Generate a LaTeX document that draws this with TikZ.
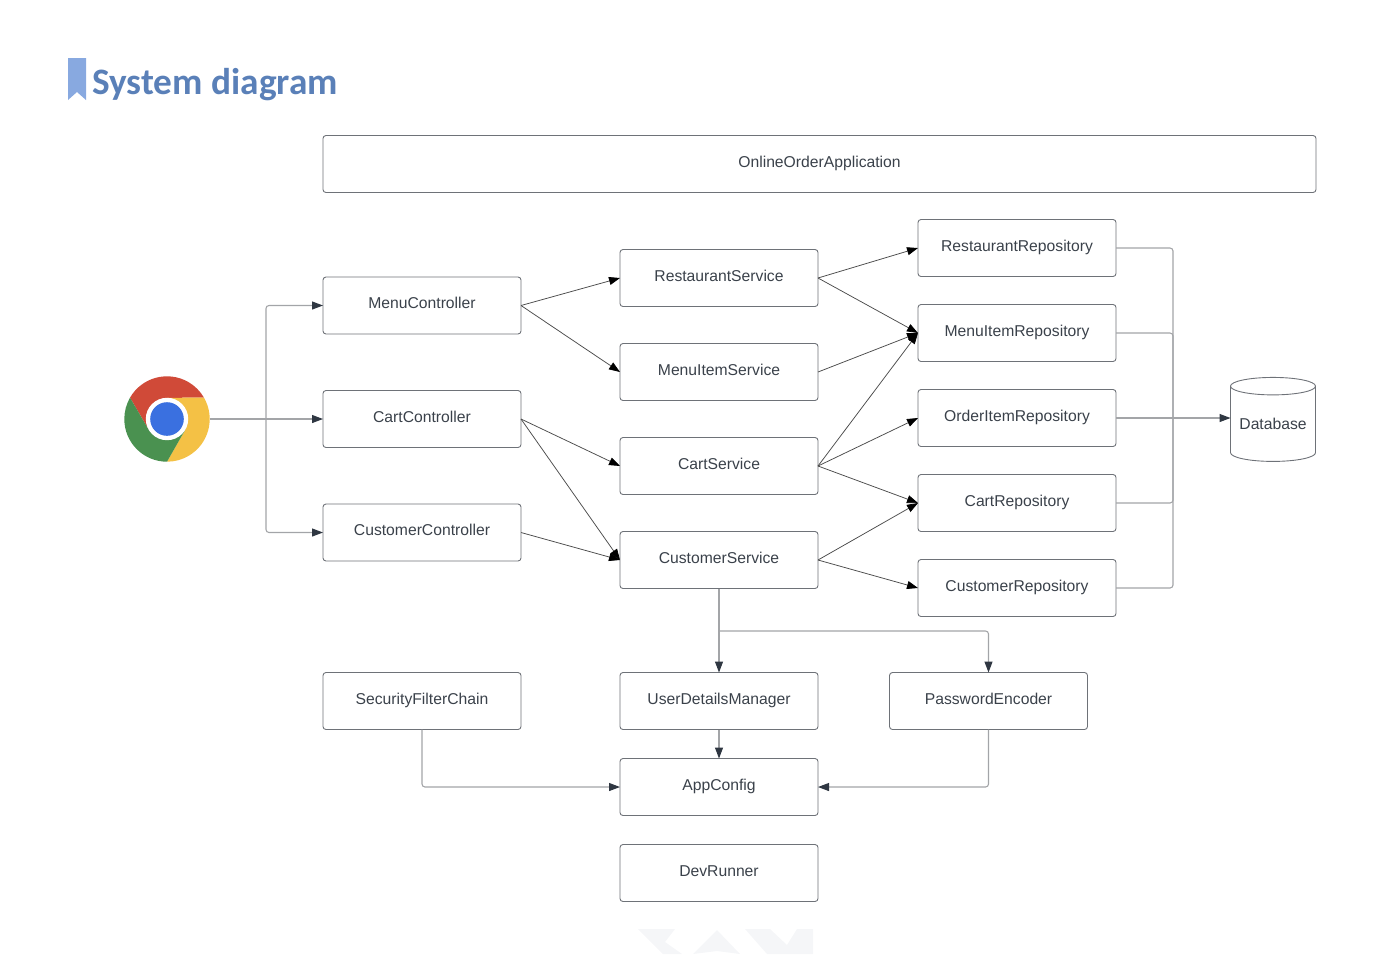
\documentclass[tikz,border=0pt]{standalone}
\usepackage{fontspec}
\setmainfont{Liberation Sans}
\newfontfamily\titlefont{Carlito}
\usetikzlibrary{positioning,arrows.meta,shapes.geometric}

\definecolor{linegray}{HTML}{A3A5A8}
\definecolor{boxgray}{HTML}{6E7278}
\definecolor{textgray}{HTML}{3A414A}
\definecolor{tipdark}{HTML}{2F3742}
\definecolor{titleblue}{HTML}{5A80B8}
\definecolor{ribbonblue}{HTML}{88A9E0}
\definecolor{markgray}{HTML}{F5F6F8}
\definecolor{chromered}{HTML}{D04A38}
\definecolor{chromeyellow}{HTML}{F4C145}
\definecolor{chromegreen}{HTML}{4A9150}
\definecolor{chromeblue}{HTML}{3A70E0}

\tikzset{
  block/.style={draw=boxgray, line width=0.45pt, rounded corners=1.5pt, outer sep=0pt,
    minimum width=99pt, minimum height=28.5pt, inner sep=0pt, text=textgray,
    font=\fontsize{7.85}{10}\selectfont, text height=6.5pt, text depth=3.5pt},
  link/.style={draw=black!70, line width=0.38pt, -{Triangle[length=5.5pt,width=4pt,color=black]}},
  wire/.style={draw=linegray, line width=0.55pt, rounded corners=1.5pt},
  wireto/.style={wire, -{Triangle[length=5.5pt,width=4pt,color=tipdark]}},
}

\begin{document}
\begin{tikzpicture}[x=0.5pt,y=-0.5pt]
  \useasboundingbox (0,0) rectangle (1384,954);

  % Heading
  \fill[ribbonblue] (68,58) -- (86,58) -- (86,100) -- (77,92) -- (68,100) -- cycle;
  \node[anchor=west, inner sep=0pt, text=titleblue, font=\titlefont\bfseries\fontsize{18.65}{22}\selectfont] (title) at (92,85) {System diagram};

  % Faint mark at the foot of the page
  \fill[markgray] (638,929) -- (675,929) -- (665,942) -- (682,954) -- (663,954) -- cycle;
  \fill[markgray] (717,930) -- (740,954) -- (717,951) -- (693,954) -- cycle;
  \fill[markgray] (745,929) -- (770,929) -- (787,945) -- (797,929) -- (813,929) -- (813,954) -- (767,954) -- cycle;

  % Define nodes
  \node[block, minimum width=496.5pt]  (app) at (819.5,164) {OnlineOrderApplication};

  \node[block]                         (menu_ctrl) at (422,305.5) {MenuController};
  \node[block, below=28.25pt of menu_ctrl] (cart_ctrl) {CartController};
  \node[block, below=28.25pt of cart_ctrl] (cust_ctrl) {CustomerController};

  \node[block]                         (rest_srv) at (719,278) {RestaurantService};
  \node[block, below=18.5pt of rest_srv]   (item_srv) {MenuItemService};
  \node[block, below=18.5pt of item_srv]   (cart_srv) {CartService};
  \node[block, below=18.5pt of cart_srv]   (cust_srv) {CustomerService};

  \node[block]                         (rest_repo) at (1017,248) {RestaurantRepository};
  \node[block, below=14pt of rest_repo]    (item_repo) {MenuItemRepository};
  \node[block, below=14pt of item_repo]    (order_repo) {OrderItemRepository};
  \node[block, below=14pt of order_repo]   (cart_repo) {CartRepository};
  \node[block, below=14pt of cart_repo]    (cust_repo) {CustomerRepository};

  \node[block]                         (filter) at (422,701) {SecurityFilterChain};
  \node[block]                         (users) at (719,701) {UserDetailsManager};
  \node[block]                         (encoder) at (988.5,701) {PasswordEncoder};
  \node[block]                         (config) at (719,787) {AppConfig};
  \node[block]                         (runner) at (719,873) {DevRunner};

  \node[draw=boxgray, line width=0.45pt, cylinder, shape border rotate=90, shape aspect=0.26,
    minimum width=42.5pt, minimum height=42pt, inner sep=0pt, outer sep=0pt, text=textgray,
    font=\fontsize{7.85}{10}\selectfont] (db) at (1273,424) {Database};

  \node[circle, minimum size=42.7pt, inner sep=0pt, outer sep=0pt] (chrome) at (167,419) {};
  \begin{scope}[shift={(chrome.center)}]
    \fill[chromered] (150:21.35pt) arc[start angle=150, end angle=30, radius=21.35pt] -- (90:10.6pt) -- (210:10.6pt) -- cycle;
    \fill[chromeyellow] (30:21.35pt) arc[start angle=30, end angle=-90, radius=21.35pt] -- (-30:10.6pt) -- (90:10.6pt) -- cycle;
    \fill[chromegreen] (-90:21.35pt) arc[start angle=270, end angle=150, radius=21.35pt] -- (210:10.6pt) -- (-30:10.6pt) -- cycle;
    \fill[white] (0,0) circle[radius=10.6pt];
    \fill[chromeblue] (0,0) circle[radius=8.4pt];
  \end{scope}

  \coordinate (split) at (266,419);
  \coordinate (bus) at (1173,418);
  \coordinate (fork) at (719,631);

  % Connect the nodes
  \draw[wire] (chrome.east) -- (split);
  \draw[wireto] (split) |- (menu_ctrl.west);
  \draw[wireto] (split) -- (cart_ctrl.west);
  \draw[wireto] (split) |- (cust_ctrl.west);

  \draw[link] (menu_ctrl.east) -- (rest_srv.west);
  \draw[link] (menu_ctrl.east) -- (item_srv.west);
  \draw[link] (cart_ctrl.east) -- (cart_srv.west);
  \draw[link] (cart_ctrl.east) -- (cust_srv.west);
  \draw[link] (cust_ctrl.east) -- (cust_srv.west);

  \draw[link] (rest_srv.east) -- (rest_repo.west);
  \draw[link] (rest_srv.east) -- (item_repo.west);
  \draw[link] (item_srv.east) -- (item_repo.west);
  \draw[link] (cart_srv.east) -- (item_repo.west);
  \draw[link] (cart_srv.east) -- (order_repo.west);
  \draw[link] (cart_srv.east) -- (cart_repo.west);
  \draw[link] (cust_srv.east) -- (cart_repo.west);
  \draw[link] (cust_srv.east) -- (cust_repo.west);

  \draw[wire] (rest_repo.east) -| (bus);
  \draw[wire] (item_repo.east) -| (bus);
  \draw[wire] (order_repo.east) -- (bus);
  \draw[wire] (cart_repo.east) -| (bus);
  \draw[wire] (cust_repo.east) -| (bus);
  \draw[wireto] (bus) -- (bus -| db.west);

  \draw[wireto] (cust_srv.south) -- (users.north);
  \draw[wireto] (fork) -| (encoder.north);
  \draw[wireto] (users.south) -- (config.north);
  \draw[wireto] (filter.south) |- (config.west);
  \draw[wireto] (encoder.south) |- (config.east);

\end{tikzpicture}
\end{document}
